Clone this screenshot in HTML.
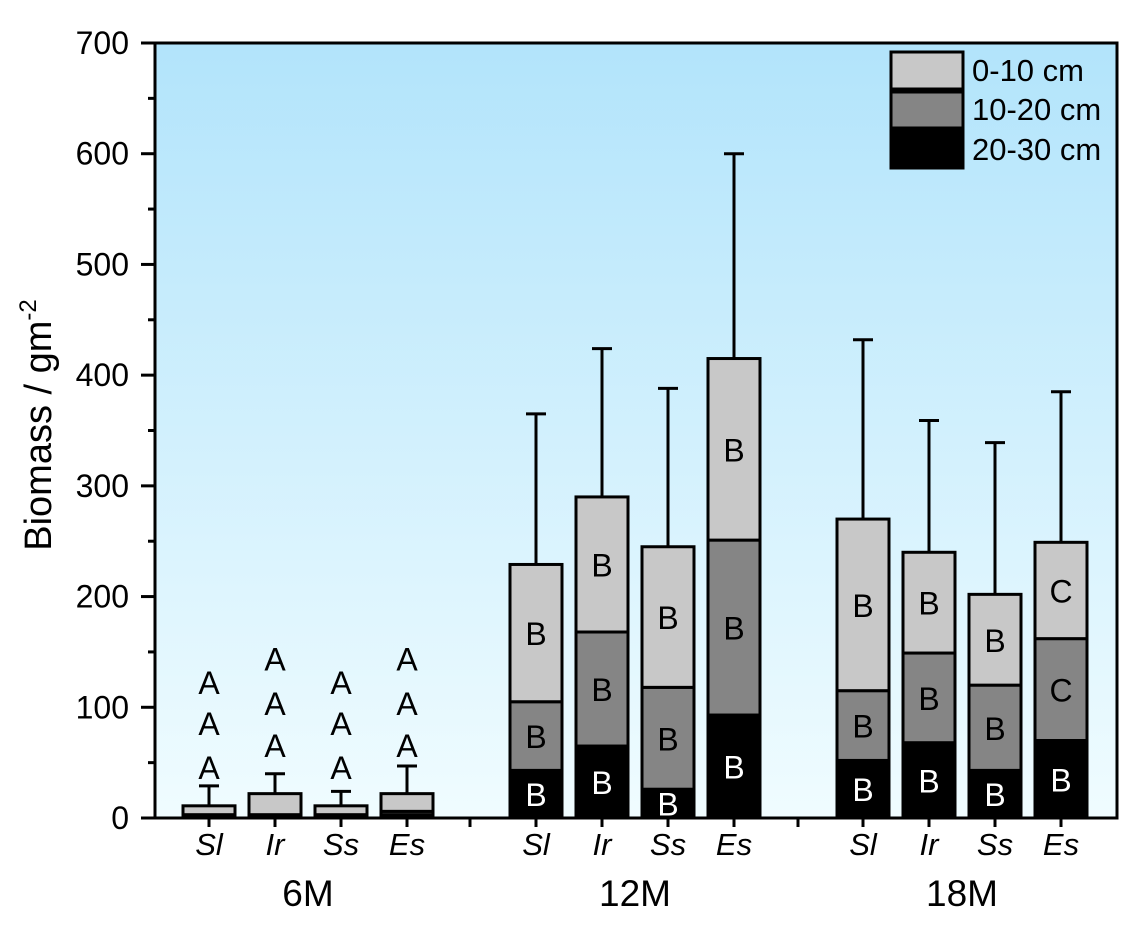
<!DOCTYPE html>
<html><head><meta charset="utf-8"><style>
body{margin:0;background:#fff;}
svg text{font-family:"Liberation Sans",Arial,sans-serif;}
</style></head><body>
<svg id="chart" width="1137" height="927" viewBox="0 0 1137 927" xmlns="http://www.w3.org/2000/svg">
<defs><linearGradient id="bg" x1="0" y1="0" x2="0" y2="1"><stop offset="0" stop-color="#b2e4fb"/><stop offset="1" stop-color="#f0fcff"/></linearGradient></defs>
<rect x="155" y="43" width="962" height="775" fill="url(#bg)"/>
<g id="bars"></g>
<g id="axes"></g>
<g>
<rect x="891" y="52" width="72" height="37" fill="#c8c8c8" stroke="#000" stroke-width="3"/>
<text x="972" y="81" font-size="31">0-10 cm</text>
<rect x="891" y="92" width="72" height="36" fill="#858585" stroke="#000" stroke-width="3"/>
<text x="972" y="120" font-size="31">10-20 cm</text>
<rect x="891" y="131" width="72" height="37" fill="#000" stroke="#000" stroke-width="3"/>
<text x="972" y="160" font-size="31">20-30 cm</text>
</g>
<text transform="translate(51,425) rotate(-90)" text-anchor="middle" font-size="38">Biomass / gm<tspan font-size="24" dy="-15">-2</tspan></text>
</svg>
<script>
const species=["Sl","Ir","Ss","Es","Sl","Ir","Ss","Es","Sl","Ir","Ss","Es"];
const groups=["6M","12M","18M"];
const deep=[1,2,1,3,43,65,26,93,52,68,43,70];
const mid=[2,1,2,3,62,103,92,158,63,81,77,92];
const top_=[8,19,8,16,124,122,127,164,155,91,82,87];
const errTop=[29,40,24,47,365,424,388,600,432,359,339,385];
const lettersTop=["","","","","B","B","B","B","B","B","B","C"];
const lettersMid=["","","","","B","B","B","B","B","B","B","C"];
const lettersDeep=["","","","","B","B","B","B","B","B","B","B"];
const aLetters=[[46,86,123],[66,104,144],[46,86,123],[66,104,144]];
const yTicks=[0,100,200,300,400,500,600,700];
const NS="http://www.w3.org/2000/svg";
const y0=818,yPx=775/700;
const ys=v=>y0-v*yPx;
const xc=i=>{const g=Math.floor(i/4),k=i%4;return 209+g*327+k*66;};
const bw=52;
function mk(t,a,p){const e=document.createElementNS(NS,t);for(const k in a)e.setAttribute(k,a[k]);(p||document.getElementById('bars')).appendChild(e);return e;}
const layers=[[deep,"#000","deep"],[mid,"#858585","mid"],[top_,"#c8c8c8","top"]];
species.forEach((s,i)=>{
  const tot=deep[i]+mid[i]+top_[i];
  const el=mk('line',{x1:xc(i),x2:xc(i),y1:ys(tot),y2:ys(errTop[i]),stroke:"#000","stroke-width":3});
  
  
  const cap=mk('line',{x1:xc(i)-10,x2:xc(i)+10,y1:ys(errTop[i]),y2:ys(errTop[i]),stroke:"#000","stroke-width":3});
  
  
  let base=0;
  layers.forEach(([arr,col,nm],li)=>{
    const r=mk('rect',{x:xc(i)-bw/2,y:ys(base+arr[i]),width:bw,height:arr[i]*yPx,fill:col,stroke:"#000","stroke-width":3});
    
    
    const L=[lettersDeep,lettersMid,lettersTop][li][i];
    if(L){const t=mk('text',{x:xc(i),y:ys(base+arr[i]/2)+12,"text-anchor":"middle","font-size":32,fill:li==0?"#fff":"#000"});t.textContent=L;
      
      }
    base+=arr[i];
  });
  if(i<4){aLetters[i].forEach(v=>{const t=mk('text',{x:xc(i),y:ys(v)+12,"text-anchor":"middle","font-size":32});t.textContent="A";
    
    });}
  const ax=document.getElementById('axes');
  const tk=mk('line',{x1:xc(i),x2:xc(i),y1:y0,y2:y0+9,stroke:"#000","stroke-width":3},ax);
  
  
  const lb=mk('text',{x:xc(i),y:855,"text-anchor":"middle","font-size":31,"font-style":"italic"},ax);lb.textContent=s;
  
  
});
const ax=document.getElementById('axes');
groups.forEach((g,gi)=>{const t=mk('text',{x:xc(gi*4)+99,y:906,"text-anchor":"middle","font-size":37},ax);t.textContent=g;
  
  });
[470,798].forEach(x=>{const l=mk('line',{x1:x,x2:x,y1:y0,y2:y0+9,stroke:"#000","stroke-width":3},ax);
  
  });
yTicks.forEach(v=>{const l=mk('line',{x1:141,x2:155,y1:ys(v),y2:ys(v),stroke:"#000","stroke-width":3},ax);
  
  
  const t=mk('text',{x:129,y:ys(v)+11,"text-anchor":"end","font-size":32},ax);t.textContent=v;
  
  
  if(v<700){const m=mk('line',{x1:148,x2:155,y1:ys(v+50),y2:ys(v+50),stroke:"#000","stroke-width":3},ax);
    
    }
});
const fr=mk('rect',{x:155,y:43,width:962,height:775,fill:"none",stroke:"#000","stroke-width":3},ax);


</script>
</body></html>
